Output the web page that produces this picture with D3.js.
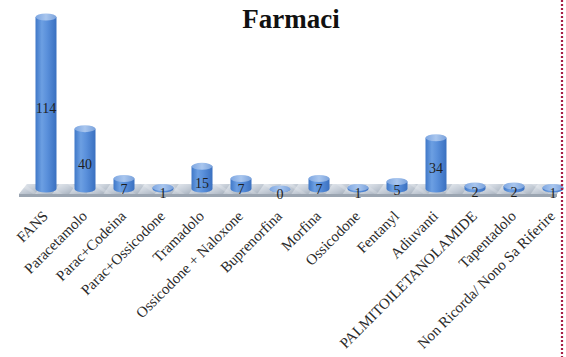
<!DOCTYPE html>
<html>
<head>
<meta charset="utf-8">
<script src="https://cdn.jsdelivr.net/npm/d3@7"></script>
<style>
  html, body { margin: 0; padding: 0; background: #fff; }
  svg { display: block; }
  text { font-family: "Liberation Serif", "Times New Roman", serif; }
</style>
</head>
<body>
<svg id="chart" width="566" height="357"></svg>
<script>
// Farmaci: number of mentions per drug class
const categories = [
  "FANS", "Paracetamolo", "Parac+Codeina", "Parac+Ossicodone", "Tramadolo",
  "Ossicodone + Naloxone", "Buprenorfina", "Morfina", "Ossicodone", "Fentanyl",
  "Adiuvanti", "PALMITOILETANOLAMIDE", "Tapentadolo", "Non Ricorda/ Nono Sa Riferire"
];
const values = [114, 40, 7, 1, 15, 7, 0, 7, 1, 5, 34, 2, 2, 1];
const title = "Farmaci";

const svg = d3.select("#chart");
const W = 566, H = 357;

const x = d3.scalePoint().domain(categories).range([46, 553]);
const y = d3.scaleLinear().domain([0, 114]).range([189, 17]);

const barW = 21, ry = 3.5;
const floorFront = 197;

const defs = svg.append("defs");

// cylinder body shading
const bodyGrad = defs.append("linearGradient").attr("id", "body")
  .attr("x1", 0).attr("x2", 1).attr("y1", 0).attr("y2", 0);
[["0%", "#3f78c8"], ["30%", "#6c9fe2"], ["55%", "#5a90db"], ["100%", "#3a70c0"]]
  .forEach(([o, c]) => bodyGrad.append("stop").attr("offset", o).attr("stop-color", c));

const capGrad = defs.append("linearGradient").attr("id", "cap")
  .attr("x1", 0).attr("x2", 1).attr("y1", 0).attr("y2", 0);
[["0%", "#7ea7e2"], ["50%", "#a9c6ee"], ["100%", "#7aa2dc"]]
  .forEach(([o, c]) => capGrad.append("stop").attr("offset", o).attr("stop-color", c));

// floor shading
const floorGrad = defs.append("linearGradient").attr("id", "floor")
  .attr("x1", 0).attr("x2", 0).attr("y1", 0).attr("y2", 1);
[["0%", "#dfe4ea"], ["60%", "#c3cbd6"], ["100%", "#aab4c0"]]
  .forEach(([o, c]) => floorGrad.append("stop").attr("offset", o).attr("stop-color", c));

const stripes = defs.append("pattern").attr("id", "stripes")
  .attr("patternUnits", "userSpaceOnUse").attr("width", 14).attr("height", 14)
  .attr("patternTransform", "rotate(-55)");
stripes.append("rect").attr("width", 14).attr("height", 14).attr("fill", "url(#floor)");
stripes.append("rect").attr("x", 0).attr("width", 3).attr("height", 14)
  .attr("fill", "#ffffff").attr("opacity", 0.35);

// floor: top surface and thin front face
const floorTop = 184, floorMid = 194;
svg.append("path")
  .attr("d", `M27,${floorTop} L564,${floorTop} L557,${floorMid} L19,${floorMid} Z`)
  .attr("fill", "url(#floor)");
svg.append("path")
  .attr("d", `M27,${floorTop} L564,${floorTop} L557,${floorMid} L19,${floorMid} Z`)
  .attr("fill", "url(#stripes)").attr("opacity", 0.5);
svg.append("path")
  .attr("d", `M19,${floorMid} L557,${floorMid} L557,${floorFront} L19,${floorFront} Z`)
  .attr("fill", "#9ba5b1");

// cylinders
const bars = svg.append("g").selectAll("g").data(values).join("g")
  .attr("transform", (d, i) => `translate(${x(categories[i])},0)`);

bars.append("path")
  .attr("d", d => {
    const t = y(d), b = y(0), hw = barW / 2;
    return `M${-hw},${t} L${-hw},${b} A${hw},${ry} 0 0 0 ${hw},${b} L${hw},${t} Z`;
  })
  .attr("fill", "url(#body)");

bars.append("ellipse")
  .attr("cx", 0).attr("cy", d => y(d))
  .attr("rx", barW / 2).attr("ry", ry)
  .attr("fill", "url(#cap)");

// value labels
bars.append("text")
  .attr("x", 0)
  .attr("y", d => (y(d) + floorFront) / 2 + 1)
  .attr("dy", "0.35em")
  .attr("text-anchor", "middle")
  .attr("font-size", 14)
  .attr("fill", "#1e1e1e")
  .text(d => d);

// category labels
svg.append("g").selectAll("text").data(categories).join("text")
  .attr("transform", d => `translate(${x(d) + 3},217) rotate(-45)`)
  .attr("text-anchor", "end")
  .attr("font-size", 15)
  .attr("fill", "#2a2a2a")
  .text(d => d);

// title
svg.append("text")
  .attr("x", 291).attr("y", 28)
  .attr("text-anchor", "middle")
  .attr("font-size", 27)
  .attr("font-weight", "bold")
  .attr("fill", "#111")
  .text(title);

// page margin rule
svg.append("line")
  .attr("x1", 562).attr("x2", 562).attr("y1", 0).attr("y2", H)
  .attr("stroke", "#a51d44").attr("stroke-width", 2.2)
  .attr("stroke-dasharray", "2,2");
</script>
</body>
</html>
